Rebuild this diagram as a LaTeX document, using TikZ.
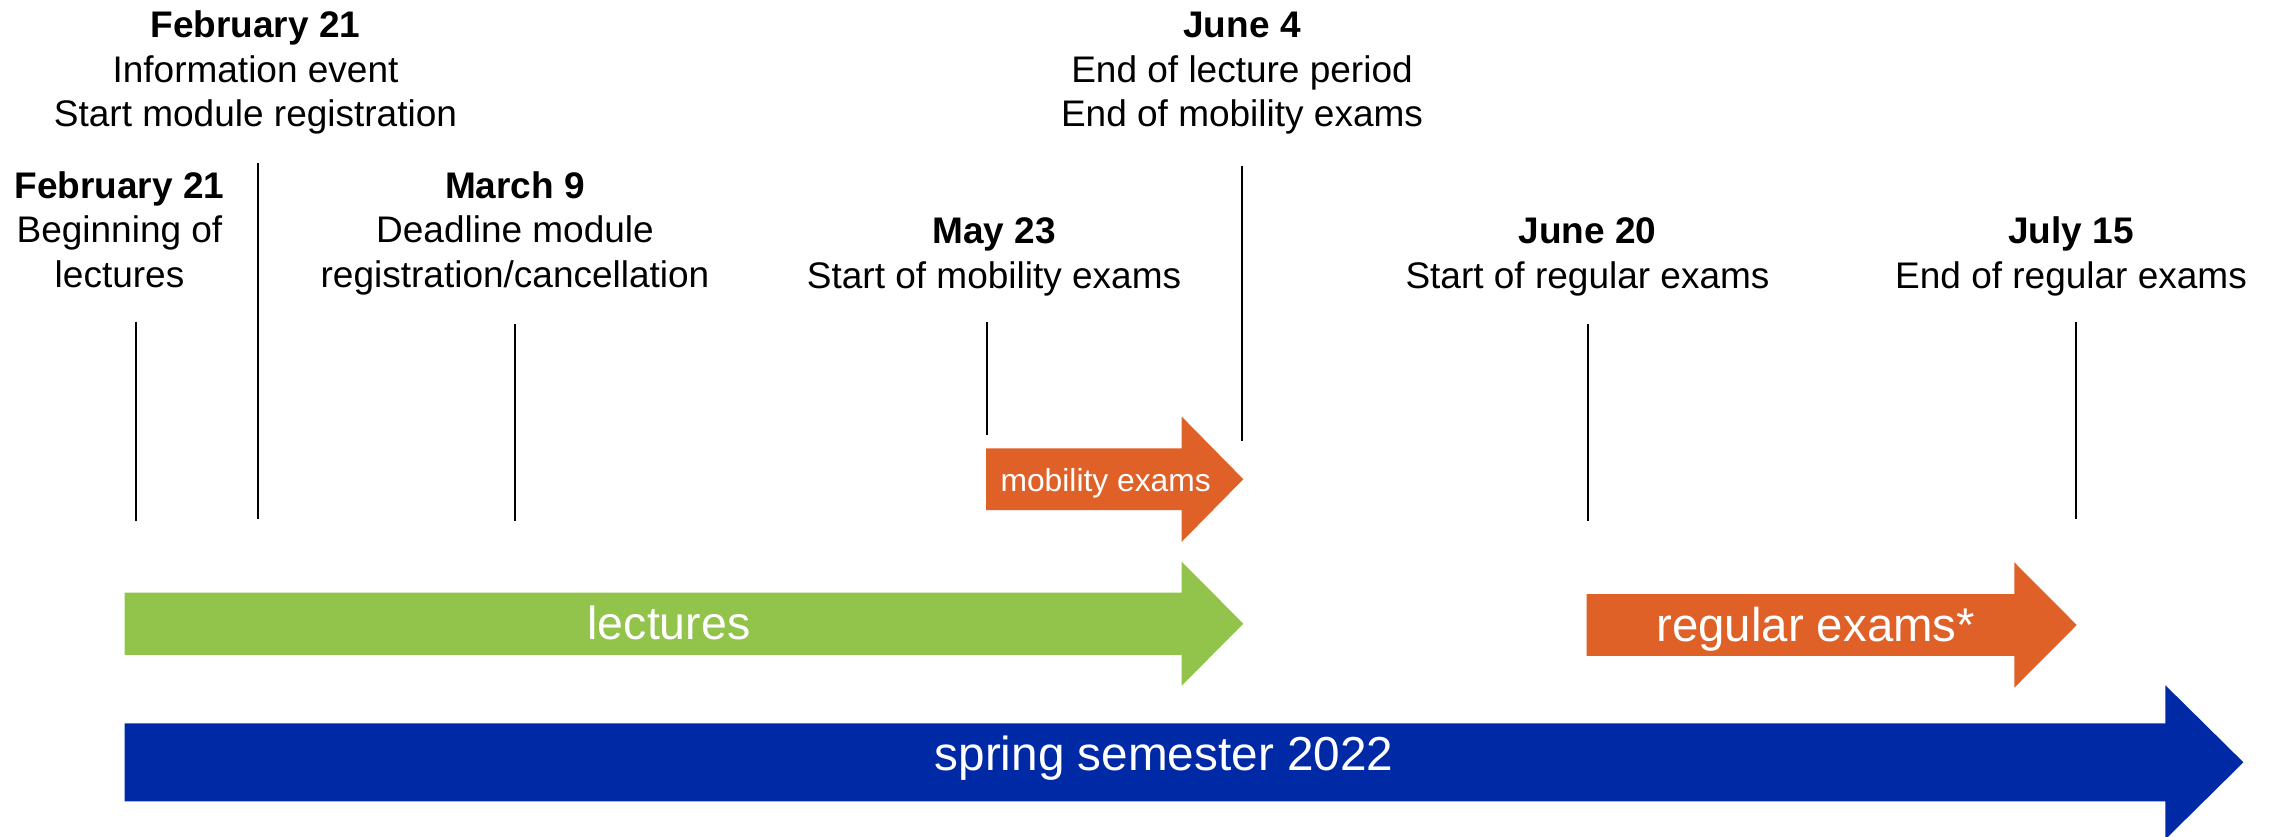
\documentclass[tikz,border=0pt]{standalone}
\usepackage{fontspec}
\setmainfont{Liberation Sans}
\definecolor{lecgreen}{HTML}{92C34B}
\definecolor{examorange}{HTML}{DF6128}
\definecolor{semblue}{HTML}{0029A6}
\begin{document}
\begin{tikzpicture}[x=1pt,y=-1pt,
  datetext/.style={font=\fontsize{37}{44.6}\selectfont, align=center, inner sep=0pt, anchor=base},
  tick/.style={line width=2pt, black},
  barlabel/.style={text=white, inner sep=0pt, anchor=base},
]
\useasboundingbox (0,0) rectangle (2271,836);

% ---- bars (block arrows) ----
\fill[semblue] (124.5,723.3) -- (2165.4,723.3) -- (2165.4,685.3) -- (2243.4,762.3)
  -- (2165.4,839.3) -- (2165.4,801.3) -- (124.5,801.3) -- cycle;
\fill[lecgreen] (124.5,592.5) -- (1181.7,592.5) -- (1181.7,561.7) -- (1243.3,623.7)
  -- (1181.7,685.7) -- (1181.7,654.9) -- (124.5,654.9) -- cycle;
\fill[examorange] (986,448.4) -- (1181.7,448.4) -- (1181.7,416.6) -- (1243.3,479.2)
  -- (1181.7,541.8) -- (1181.7,510) -- (986,510) -- cycle;
\fill[examorange] (1586.5,594.1) -- (2014.4,594.1) -- (2014.4,562.4) -- (2076.7,625)
  -- (2014.4,687.6) -- (2014.4,655.9) -- (1586.5,655.9) -- cycle;

\node[barlabel, font=\fontsize{47.7}{57}\selectfont] (sem) at (1164,770) {spring semester 2022};
\node[barlabel, font=\fontsize{46.5}{56}\selectfont] (lec) at (669,639) {lectures};
\node[barlabel, font=\fontsize{31.8}{38}\selectfont] (mob) at (1105.7,491) {mobility exams};
\node[barlabel, font=\fontsize{47.4}{57}\selectfont] (reg) at (1815.7,641.7) {regular exams*};

% ---- tick lines ----
\coordinate (f1a) at (135.5,321.7);  \coordinate (f1b) at (135.5,521);
\coordinate (f2a) at (257.7,163.3);  \coordinate (f2b) at (257.7,518.7);
\coordinate (m9a) at (515,323.6);    \coordinate (m9b) at (515,521);
\coordinate (my23a) at (987.3,321.7); \coordinate (my23b) at (987.3,435);
\coordinate (j4a) at (1242.3,165.7); \coordinate (j4b) at (1242.3,440.7);
\coordinate (j20a) at (1587.6,323.6); \coordinate (j20b) at (1587.6,521);
\coordinate (jl15a) at (2075.5,321.7); \coordinate (jl15b) at (2075.5,518.7);
\draw[tick] (f1a) -- (f1b);
\draw[tick] (f2a) -- (f2b);
\draw[tick] (m9a) -- (m9b);
\draw[tick] (my23a) -- (my23b);
\draw[tick] (j4a) -- (j4b);
\draw[tick] (j20a) -- (j20b);
\draw[tick] (jl15a) -- (jl15b);

% ---- date labels (anchor = baseline of last line) ----
\node[datetext] (info) at (255.5,126.7) {\textbf{February 21}\\Information event\\Start module registration};
\node[datetext] (feb) at (119.5,287.3) {\textbf{February 21}\\Beginning of\\lectures};
\node[datetext] (mar) at (515,287.5) {\textbf{March 9}\\Deadline module\\registration/cancellation};
\node[datetext] (may) at (994,288.3) {\textbf{May 23}\\Start of mobility exams};
\node[datetext] (jun4) at (1242,126.7) {\textbf{June 4}\\End of lecture period\\End of mobility exams};
\node[datetext] (jun20) at (1587.5,288) {\textbf{June 20}\\Start of regular exams};
\node[datetext] (jul15) at (2071,288) {\textbf{July 15}\\End of regular exams};
\end{tikzpicture}
\end{document}
